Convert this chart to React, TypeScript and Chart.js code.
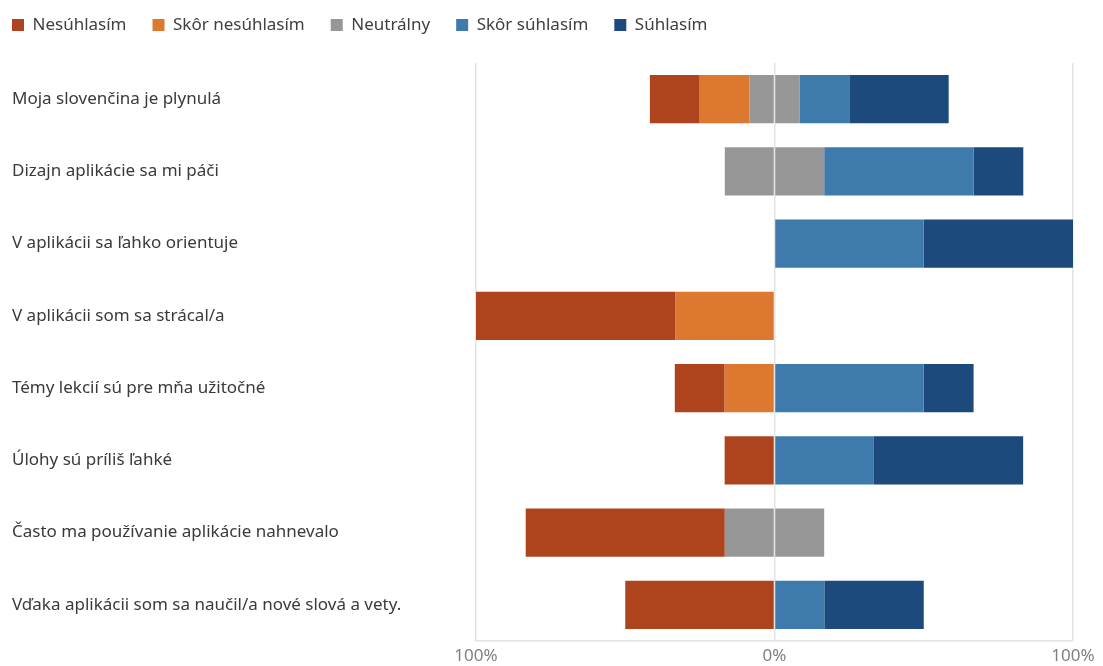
import React, { useEffect, useRef } from "react";
import { Chart, registerables } from "chart.js";

Chart.register(...registerables);

const categories = [
  "Moja slovenčina je plynulá",
  "Dizajn aplikácie sa mi páči",
  "V aplikácii sa ľahko orientuje",
  "V aplikácii som sa strácal/a",
  "Témy lekcií sú pre mňa užitočné",
  "Úlohy sú príliš ľahké",
  "Často ma používanie aplikácie nahnevalo",
  "Vďaka aplikácii som sa naučil/a nové slová a vety.",
];

// percentages of respondents
const nesuhlasim = [16.7, 0, 0, 66.7, 16.7, 16.7, 66.7, 50];
const skorNesuhlasim = [16.7, 0, 0, 33.3, 16.7, 0, 0, 0];
const neutralny = [16.7, 33.3, 0, 0, 0, 0, 33.3, 0];
const skorSuhlasim = [16.7, 50, 50, 0, 50, 33.3, 0, 16.7];
const suhlasim = [33.3, 16.7, 50, 0, 16.7, 50, 0, 33.3];

const seriesNames = ["Nesúhlasím", "Skôr nesúhlasím", "Neutrálny", "Skôr súhlasím", "Súhlasím"];
const seriesColors = ["#AD441E", "#DD7830", "#979797", "#3F7AAD", "#1C4A7C"];
const xTicks = [-100, 0, 100];

const FONT = "'Noto Sans', 'Open Sans', sans-serif";
const FONT_SIZE = 17;
const LEGEND_PAD = 26;

export default function App() {
  const ref = useRef<HTMLCanvasElement | null>(null);

  useEffect(() => {
    document.body.style.margin = "0";
    const canvas = ref.current;
    if (!canvas) return;

    const neg = (a: number[]) => a.map((v) => -v);
    const datasets: any[] = [
      { label: seriesNames[2], data: neutralny.map((v) => -v / 2), backgroundColor: seriesColors[2], hideLegend: true, legendOrder: 99 },
      { label: seriesNames[1], data: neg(skorNesuhlasim), backgroundColor: seriesColors[1], legendOrder: 1 },
      { label: seriesNames[0], data: neg(nesuhlasim), backgroundColor: seriesColors[0], legendOrder: 0 },
      { label: seriesNames[2], data: neutralny.map((v) => v / 2), backgroundColor: seriesColors[2], legendOrder: 2 },
      { label: seriesNames[3], data: skorSuhlasim, backgroundColor: seriesColors[3], legendOrder: 3 },
      { label: seriesNames[4], data: suhlasim, backgroundColor: seriesColors[4], legendOrder: 4 },
    ].map((d) => ({ ...d, borderWidth: 0, barPercentage: 0.667, categoryPercentage: 1 }));

    const legendPlacement = {
      id: "legendPlacement",
      beforeInit(chart: any) {
        const orig = chart.legend.fit;
        chart.legend.fit = function fit() {
          orig.bind(chart.legend)();
          this.height = 63;
        };
      },
      afterLayout(chart: any) {
        const lg = chart.legend;
        lg.left = 12 - LEGEND_PAD;
        lg.top = 25 - FONT_SIZE / 2 - LEGEND_PAD;
      },
    };

    const chart = new Chart(canvas, {
      type: "bar",
      data: { labels: categories, datasets },
      plugins: [legendPlacement],
      options: {
        animation: false,
        responsive: false,
        indexAxis: "y",
        layout: { padding: { left: 12, right: 30, top: 0, bottom: 0 } },
        plugins: {
          tooltip: { enabled: false },
          legend: {
            position: "top",
            align: "start",
            labels: {
              boxWidth: 12,
              boxHeight: 12,
              padding: LEGEND_PAD,
              color: "#404040",
              font: { family: FONT, size: FONT_SIZE },
              filter: (item: any, data: any) => !data.datasets[item.datasetIndex].hideLegend,
              sort: (a: any, b: any, data: any) =>
                data.datasets[a.datasetIndex].legendOrder - data.datasets[b.datasetIndex].legendOrder,
            },
          },
        },
        scales: {
          x: {
            stacked: true,
            min: -100,
            max: 100,
            afterBuildTicks: (scale: any) => {
              scale.ticks = xTicks.map((v) => ({ value: v }));
            },
            afterFit: (scale: any) => {
              scale.height = 25;
            },
            ticks: {
              color: "#7f7f7f",
              padding: 5,
              font: { family: FONT, size: FONT_SIZE },
              callback: (v: any) => Math.abs(Number(v)) + "%",
            },
            grid: { color: "#e3e3e3", lineWidth: 1.5, drawTicks: false },
            border: { display: true, color: "#e3e3e3", width: 1.5 },
          },
          y: {
            stacked: true,
            afterFit: (scale: any) => {
              scale.width = 464;
            },
            ticks: {
              crossAlign: "far",
              color: "#3a3a3a",
              font: { family: FONT, size: FONT_SIZE },
            },
            grid: { display: false },
            border: { display: false },
          },
        },
      } as any,
    });

    return () => chart.destroy();
  }, []);

  return (
    <div style={{ width: 1103, height: 666 }}>
      <canvas ref={ref} width={1103} height={666} style={{ display: "block" }} />
    </div>
  );
}
